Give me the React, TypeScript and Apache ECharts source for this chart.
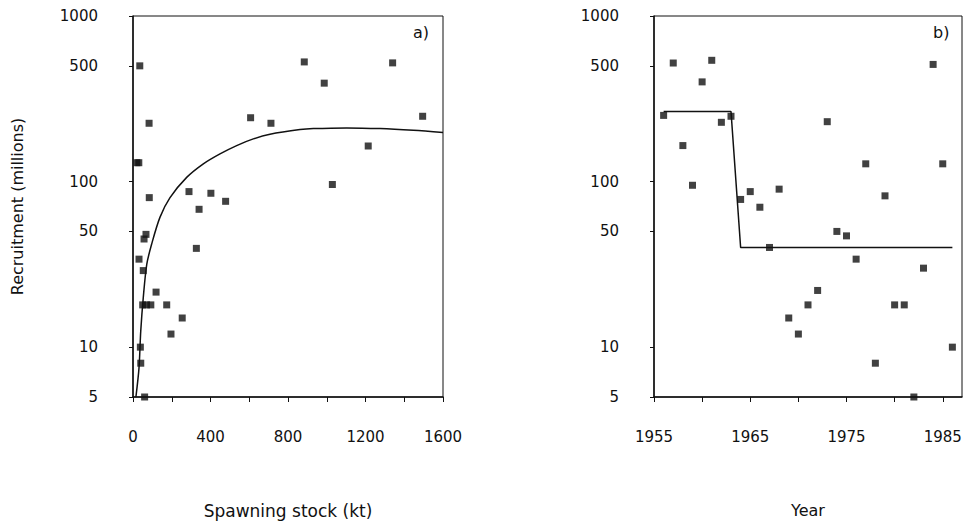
import { useEffect, useRef } from "react";
import * as echarts from "echarts";

// Panel a) spawning stock (kt) vs recruitment (millions)
const stockKt = [35, 83, 20, 30, 84, 67, 57, 31, 53, 50, 70, 92, 119, 174, 254, 196, 38, 40, 60, 289, 341, 327, 402, 478, 607, 712, 884, 987, 1340, 1495, 1214, 1029];
const recruitA = [500, 225, 130, 130, 80, 48, 45, 34, 29, 18, 18, 18, 21.5, 18, 15, 12, 10, 8, 5, 87, 68, 39.5, 85, 76, 243, 225, 528, 393, 521, 248, 164, 96];

// Fitted stock-recruitment curve
const curveStock = [15, 31, 40, 53, 71, 96, 139, 191, 277, 363, 449, 535, 621, 707, 862, 931, 1103, 1275, 1447, 1600];
const curveRecruit = [5, 7.5, 12.5, 19.9, 31.6, 41.8, 60.8, 80, 106, 128, 147, 165, 181, 193, 206, 209, 211, 209, 204, 198];

// Panel b) year vs recruitment
const years = [1956, 1957, 1958, 1959, 1960, 1961, 1962, 1963, 1964, 1965, 1966, 1967, 1968, 1969, 1970, 1971, 1972, 1973, 1974, 1975, 1976, 1977, 1978, 1979, 1980, 1981, 1982, 1983, 1984, 1985, 1986];
const recruitB = [251, 520, 165, 95, 400, 540, 228, 248, 78, 87, 70, 40, 90, 15, 12, 18, 22, 230, 50, 47, 34, 128, 8, 82, 18, 18, 5, 30, 510, 128, 10];

// Step (regime) line
const stepYears = [1956, 1963, 1964, 1986];
const stepRecruit = [265, 265, 40, 40];

// Tick labels
const yTickValues = [5, 10, 50, 100, 500, 1000];
const stockLabelStep = 400;
const yearLabelStart = 1955;
const yearLabelStep = 10;

const FONT = "DejaVu Sans";
const INK = "#111";

export default function App() {
  const ref = useRef<HTMLDivElement>(null);

  useEffect(() => {
    if (!ref.current) return;
    const chart = echarts.init(ref.current, undefined, { renderer: "svg" });

    const yAxisBase = (gridIndex: number, withName: boolean) => ({
      type: "log" as const,
      logBase: 10,
      gridIndex,
      min: 5,
      max: 1000,
      name: withName ? "Recruitment (millions)" : "",
      nameLocation: "middle" as const,
      nameRotate: 90,
      nameGap: 108,
      nameTextStyle: { fontFamily: FONT, fontSize: 16, color: INK },
      axisLine: { show: true, lineStyle: { color: INK, width: 1.5 } },
      axisTick: { show: true, inside: false, length: 4, customValues: yTickValues, lineStyle: { color: INK } },
      minorTick: { show: false },
      splitLine: { show: false },
      axisLabel: {
        customValues: yTickValues,
        margin: 35,
        fontFamily: FONT,
        fontSize: 15,
        color: INK,
        formatter: (v: number) => String(Math.round(v)),
      },
    });

    const xCommon = {
      axisLine: { show: true, onZero: false, lineStyle: { color: INK, width: 1.5 } },
      axisTick: { show: true, inside: false, length: 5, lineStyle: { color: INK } },
      splitLine: { show: false },
    };

    chart.setOption({
      animation: false,
      backgroundColor: "#fff",
      grid: [
        { left: 133, top: 16, width: 310, height: 381, show: true, borderColor: INK, borderWidth: 1, backgroundColor: "transparent" },
        { left: 654, top: 16, width: 308, height: 381, show: true, borderColor: INK, borderWidth: 1, backgroundColor: "transparent" },
      ],
      xAxis: [
        {
          type: "value",
          gridIndex: 0,
          min: 0,
          max: 1600,
          interval: 200,
          name: "Spawning stock (kt)",
          nameLocation: "middle",
          nameGap: 105,
          nameTextStyle: { fontFamily: FONT, fontSize: 17, color: INK },
          ...xCommon,
          axisLabel: {
            margin: 32,
            fontFamily: FONT,
            fontSize: 15,
            color: INK,
            formatter: (v: number) => (v % stockLabelStep === 0 ? String(v) : ""),
          },
        },
        {
          type: "value",
          gridIndex: 1,
          min: 1955,
          max: 1987,
          interval: 5,
          name: "Year",
          nameLocation: "middle",
          nameGap: 105,
          nameTextStyle: { fontFamily: FONT, fontSize: 16, color: INK },
          ...xCommon,
          axisLabel: {
            margin: 32,
            fontFamily: FONT,
            fontSize: 15,
            color: INK,
            showMaxLabel: false,
            formatter: (v: number) => ((v - yearLabelStart) % yearLabelStep === 0 ? String(v) : ""),
          },
        },
      ],
      yAxis: [yAxisBase(0, true), yAxisBase(1, false)],
      graphic: [
        { type: "text", left: 413, top: 24, style: { text: "a)", fontFamily: FONT, fontSize: 16, fill: INK } },
        { type: "text", left: 933, top: 24, style: { text: "b)", fontFamily: FONT, fontSize: 16, fill: INK } },
      ],
      series: [
        {
          type: "line",
          xAxisIndex: 0,
          yAxisIndex: 0,
          data: curveStock.map((s, i) => [s, curveRecruit[i]]),
          smooth: 0.3,
          showSymbol: false,
          symbol: "none",
          lineStyle: { color: INK, width: 1.5 },
          z: 2,
        },
        {
          type: "scatter",
          xAxisIndex: 0,
          yAxisIndex: 0,
          data: stockKt.map((s, i) => [s, recruitA[i]]),
          symbol: "rect",
          symbolSize: [7, 7],
          itemStyle: { color: INK },
          z: 3,
        },
        {
          type: "line",
          xAxisIndex: 1,
          yAxisIndex: 1,
          data: stepYears.map((y, i) => [y, stepRecruit[i]]),
          showSymbol: false,
          symbol: "none",
          lineStyle: { color: INK, width: 1.5 },
          z: 2,
        },
        {
          type: "scatter",
          xAxisIndex: 1,
          yAxisIndex: 1,
          data: years.map((y, i) => [y, recruitB[i]]),
          symbol: "rect",
          symbolSize: [7, 7],
          itemStyle: { color: INK },
          z: 3,
        },
      ],
    });

    return () => chart.dispose();
  }, []);

  return <div ref={ref} style={{ width: 966, height: 528, position: "absolute", left: 0, top: 0 }} />;
}
